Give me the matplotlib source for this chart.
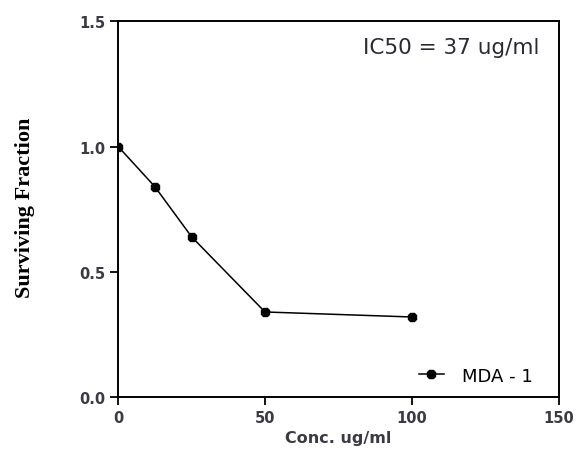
import matplotlib
matplotlib.use("Agg")
import matplotlib.pyplot as plt

# data
conc = [0, 12.5, 25, 50, 100]
surviving = [1.0, 0.84, 0.64, 0.34, 0.32]
series_name = "MDA - 1"
x_ticks = [0, 50, 100, 150]
y_ticks = [0.0, 0.5, 1.0, 1.5]

plt.rcParams['font.family'] = ['DejaVu Sans']

fig = plt.figure(figsize=(5.79, 4.52), dpi=100)
ax = fig.add_axes([0.204, 0.119, 0.761, 0.832])

ax.plot(conc, surviving, color='black', lw=1.1, marker='8', ms=7,
        label=series_name)

ax.set_xlim(0, 150)
ax.set_ylim(0, 1.5)
ax.set_xticks(x_ticks)
ax.set_yticks(y_ticks)
ax.set_yticklabels(['0.0', '0.5', '1.0', '1.5'])
ax.tick_params(direction='out', length=6, width=1.3, labelsize=10.5, pad=3,
               labelcolor='#3a3a44', top=False, right=False)
for lab in ax.get_xticklabels() + ax.get_yticklabels():
    lab.set_fontweight('bold')
for s in ax.spines.values():
    s.set_linewidth(1.4)

ax.set_xlabel('Conc. ug/ml', fontsize=11.5, fontweight='bold', color='#3a3a44',
              labelpad=4)
fig.text(0.043, 0.541, 'Surviving Fraction', rotation=90, ha='center',
         va='center', fontsize=16, fontweight='bold',
         family=['Liberation Serif', 'DejaVu Serif'])

ax.text(0.955, 0.93, 'IC50 = 37 ug/ml', transform=ax.transAxes, ha='right',
        va='center', fontsize=15.5, color='#2a2a33')

ax.legend(loc='lower right', bbox_to_anchor=(0.97, 0.0), frameon=False,
          fontsize=13, handlelength=1.4, handletextpad=1.0,
          borderaxespad=0.3)

fig.savefig('out.png', dpi=100)
